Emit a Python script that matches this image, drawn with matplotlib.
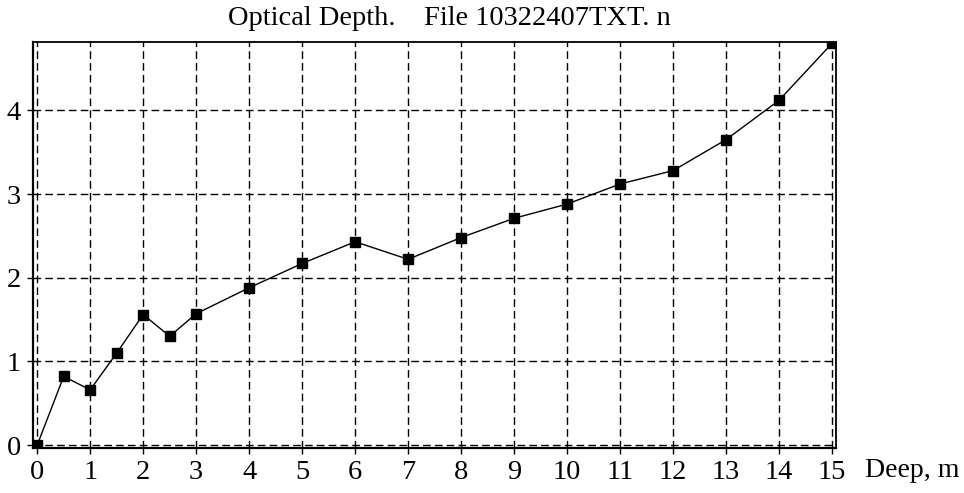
import matplotlib.pyplot as plt

# depth (m) and optical depth values
depth = [0, 0.5, 1, 1.5, 2, 2.5, 3, 4, 5, 6, 7, 8, 9, 10, 11, 12, 13, 14, 15]
optical_depth = [0.0, 0.82, 0.66, 1.10, 1.56, 1.30, 1.57, 1.88, 2.17, 2.43,
                 2.22, 2.48, 2.71, 2.88, 3.12, 3.28, 3.65, 4.12, 4.80]
x_ticks = list(range(0, 16))
y_ticks = [0, 1, 2, 3, 4]

plt.rcParams['font.family'] = ['Liberation Serif', 'DejaVu Serif']

fig = plt.figure(figsize=(9.64, 4.93), dpi=100)
ax = fig.add_axes([0.0342, 0.0913, 0.833, 0.824])

ax.plot(depth, optical_depth, color='black', linewidth=1.0,
        marker='s', markersize=6.5, zorder=3)

ax.set_xlim(-0.08, 15.075)
ax.set_ylim(-0.035, 4.82)
ax.set_xticks(x_ticks)
ax.set_yticks(y_ticks)
ax.tick_params(axis='both', labelsize=20.5, length=4, width=1, color='black')
ax.tick_params(axis='x', pad=4.5)
ax.tick_params(axis='y', pad=4.5)

ax.grid(True, color='black', linewidth=1.0, linestyle=(0, (5.5, 3)))

for side in ('left', 'bottom'):
    ax.spines[side].set_linewidth(1.6)
for side in ('top', 'right'):
    ax.spines[side].set_linewidth(1.3)

fig.text(0.466, 0.962, 'Optical Depth.    File 10322407TXT. n',
         ha='center', va='center', fontsize=20.5)
fig.text(0.897, 0.045, 'Deep, m', ha='left', va='center', fontsize=20)

fig.savefig('out.png', dpi=100)
